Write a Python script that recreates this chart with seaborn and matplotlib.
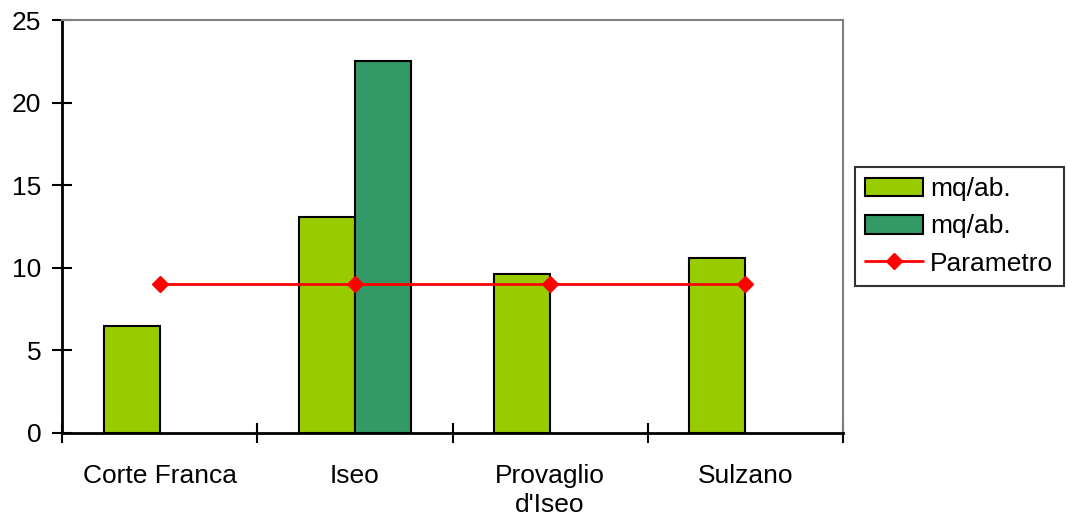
import matplotlib
matplotlib.use("Agg")
import matplotlib.pyplot as plt
import numpy as np
import pandas as pd
import seaborn as sns
from matplotlib.lines import Line2D
from matplotlib.patches import Patch

comuni = ["Corte Franca", "Iseo", "Provaglio\nd'Iseo", "Sulzano"]
mq_ab_1 = [6.5, 13.1, 9.6, 10.6]
mq_ab_2 = [np.nan, 22.5, np.nan, np.nan]
parametro = [9, 9, 9, 9]

df = pd.DataFrame({
    "comune": comuni * 2,
    "serie": ["s1"] * 4 + ["s2"] * 4,
    "valore": mq_ab_1 + mq_ab_2,
})

sns.set_style("white", rc={"text.color": "black", "xtick.color": "black",
                           "ytick.color": "black", "axes.labelcolor": "black"})
plt.rcParams["font.family"] = ["Liberation Sans", "DejaVu Sans"]

fig = plt.figure(figsize=(10.68, 5.22), dpi=100)
ax = fig.add_axes([62 / 1068, 89 / 522, 781 / 1068, 413 / 522])

sns.barplot(data=df, x="comune", y="valore", hue="serie", hue_order=["s1", "s2"],
            palette={"s1": "#99CC00", "s2": "#339966"}, width=0.574,
            edgecolor="black", linewidth=1.5, saturation=1, legend=False, ax=ax)
ax.plot(range(len(comuni)), parametro, color="#FF0000", linewidth=2,
        marker="D", markersize=8, zorder=5)

ax.set_xlim(-0.5, len(comuni) - 0.5)
ax.set_ylim(0, 25)
ax.set_yticks([0, 5, 10, 15, 20, 25])
ax.set_xlabel("")
ax.set_ylabel("")

ax.set_xticks(range(len(comuni)))
ax.set_xticklabels(comuni, fontsize=19, linespacing=1.3)
ax.set_xticks(np.arange(-0.5, len(comuni)), minor=True)
ax.tick_params(axis="x", which="major", length=0, pad=22, bottom=True)
ax.tick_params(axis="x", which="minor", direction="inout", length=14, width=1.5,
               color="black", bottom=True)
ax.tick_params(axis="y", direction="inout", length=14, width=1.5, color="black",
               labelsize=19, pad=8, left=True)

for side in ["left", "bottom"]:
    ax.spines[side].set_color("black")
    ax.spines[side].set_linewidth(2)
for side in ["top", "right"]:
    ax.spines[side].set_color("#808080")
    ax.spines[side].set_linewidth(1.5)

handles = [
    Patch(facecolor="#99CC00", edgecolor="black", linewidth=1.5),
    Patch(facecolor="#339966", edgecolor="black", linewidth=1.5),
    Line2D([], [], color="#FF0000", linewidth=2, marker="D", markersize=8),
]
leg = ax.legend(handles, ["mq/ab.", "mq/ab.", "Parametro"], loc="center left",
                bbox_to_anchor=(1.015, 0.5), fontsize=19, frameon=True, fancybox=False,
                borderpad=0.4, labelspacing=0.5, handlelength=2.2, handleheight=0.7,
                handletextpad=0.25, borderaxespad=0)
leg.get_frame().set_edgecolor("black")
leg.get_frame().set_linewidth(1.5)

fig.savefig("out.png", dpi=100)
